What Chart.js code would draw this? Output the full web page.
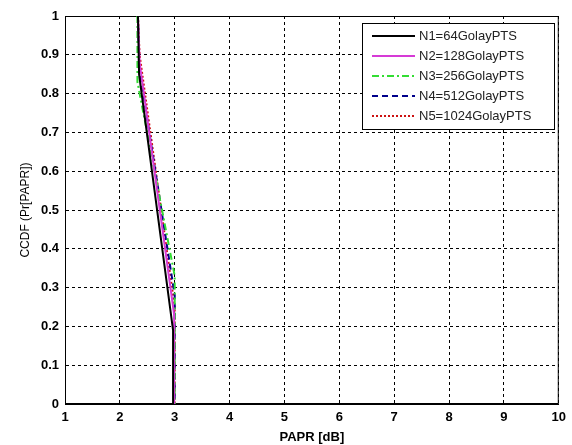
<!DOCTYPE html>
<html>
<head>
<meta charset="utf-8">
<script src="https://cdn.jsdelivr.net/npm/chart.js@4"></script>
<style>
  html, body { margin: 0; padding: 0; background: #fff; }
  #wrap { width: 572px; height: 445px; }
</style>
</head>
<body>
<div id="wrap"><canvas id="ccdfChart" width="572" height="445"></canvas></div>
<script>
// values (PAPR in dB, CCDF)
const seriesNames = ['N1=64GolayPTS', 'N2=128GolayPTS', 'N3=256GolayPTS', 'N4=512GolayPTS', 'N5=1024GolayPTS'];
const paprN1 = [2.33, 2.35, 2.97, 2.97];
const ccdfN1 = [1, 0.85, 0.19, 0];
const paprN2 = [2.33, 2.36, 2.99, 2.99];
const ccdfN2 = [1, 0.88, 0.23, 0];
const paprN3 = [2.32, 2.32, 3.0, 3.0];
const ccdfN3 = [1, 0.83, 0.33, 0];
const paprN4 = [2.33, 2.35, 3.0, 3.0];
const ccdfN4 = [1, 0.87, 0.28, 0];
const paprN5 = [2.33, 2.36, 3.0, 3.0];
const ccdfN5 = [1, 0.9, 0.25, 0];
const xTicks = [1, 2, 3, 4, 5, 6, 7, 8, 9, 10];
const yTicks = [0, 0.1, 0.2, 0.3, 0.4, 0.5, 0.6, 0.7, 0.8, 0.9, 1];

function pts(xs, ys) {
    return xs.map(function (x, i) { return { x: x, y: ys[i] }; });
}

const styles = [
    { color: '#000000', dash: [] },
    { color: '#d63ad6', dash: [] },
    { color: '#33dd33', dash: [7, 3, 2, 3] },
    { color: '#00008b', dash: [6, 4] },
    { color: '#cc1111', dash: [2, 2] }
];
const allX = [paprN1, paprN2, paprN3, paprN4, paprN5];
const allY = [ccdfN1, ccdfN2, ccdfN3, ccdfN4, ccdfN5];

const datasets = seriesNames.map(function (name, i) {
    return {
        label: name,
        data: pts(allX[i], allY[i]),
        borderColor: styles[i].color,
        borderDash: styles[i].dash,
        borderWidth: 2,
        pointRadius: 0,
        showLine: true,
        fill: false
    };
});

// legend box drawn inside the plot, upper right, like the MATLAB one
const boxLegend = {
    id: 'boxLegend',
    afterDraw(chart) {
        const ctx = chart.ctx;
        const left = 362, top = 23, w = 192, rowH = 20;
        const h = rowH * chart.data.datasets.length + 6;
        ctx.save();
        ctx.fillStyle = '#fff';
        ctx.fillRect(left, top, w, h);
        ctx.strokeStyle = '#000';
        ctx.lineWidth = 1;
        ctx.setLineDash([]);
        ctx.strokeRect(left + 0.5, top + 0.5, w, h);
        ctx.font = '13px "Liberation Sans", Arial, sans-serif';
        ctx.textBaseline = 'middle';
        chart.data.datasets.forEach(function (ds, i) {
            const y = top + 13 + i * rowH;
            ctx.strokeStyle = ds.borderColor;
            ctx.lineWidth = 2;
            ctx.setLineDash(ds.borderDash);
            ctx.beginPath();
            ctx.moveTo(left + 10, y);
            ctx.lineTo(left + 53, y);
            ctx.stroke();
            ctx.fillStyle = '#222';
            ctx.fillText(ds.label, left + 57, y);
        });
        ctx.restore();
    }
};

const tickFont = { family: '"Liberation Sans", Arial, sans-serif', size: 13, weight: 'bold' };

new Chart(document.getElementById('ccdfChart'), {
    type: 'scatter',
    data: { datasets: datasets },
    options: {
        responsive: false,
        animation: false,
        layout: { padding: { top: 16, right: 11, left: 0, bottom: 0 } },
        plugins: {
            legend: { display: false },
            tooltip: { enabled: false }
        },
        scales: {
            x: {
                type: 'linear',
                min: 1, max: 10,
                afterBuildTicks: function (s) { s.ticks = xTicks.map(function (v) { return { value: v }; }); },
                afterFit: function (s) { s.height = 41; },
                grid: { color: '#000', lineWidth: 1, tickLength: 0, drawTicks: false },
                border: { display: true, color: '#000', dash: [3, 3], width: 1 },
                ticks: { color: '#000', font: tickFont, padding: 6, callback: function (v) { return String(v); } },
                title: { display: true, text: 'PAPR [dB]', color: '#000', font: { family: '"Liberation Sans", Arial, sans-serif', size: 13, weight: 'bold' }, padding: { top: 0, bottom: 0 } }
            },
            y: {
                type: 'linear',
                min: 0, max: 1,
                afterBuildTicks: function (s) { s.ticks = yTicks.map(function (v) { return { value: v }; }); },
                afterFit: function (s) { s.width = 65; },
                grid: { color: '#000', lineWidth: 1, drawTicks: false },
                border: { display: true, color: '#000', dash: [3, 3], width: 1 },
                ticks: { color: '#000', font: tickFont, padding: 6, callback: function (v) { return String(v); } },
                title: { display: true, text: 'CCDF (Pr[PAPR])', color: '#000', font: { family: '"Liberation Sans", Arial, sans-serif', size: 12 }, padding: { top: 18, bottom: 4 } }
            }
        }
    },
    plugins: [boxLegend, {
        id: 'plotFrame',
        beforeDatasetsDraw(chart) {
            const a = chart.chartArea, ctx = chart.ctx;
            ctx.save();
            ctx.strokeStyle = '#000';
            ctx.lineWidth = 1;
            ctx.setLineDash([]);
            ctx.strokeRect(a.left + 0.5, a.top + 0.5, a.right - a.left - 1, a.bottom - a.top - 1);
            ctx.restore();
        }
    }]
});
</script>
</body>
</html>
